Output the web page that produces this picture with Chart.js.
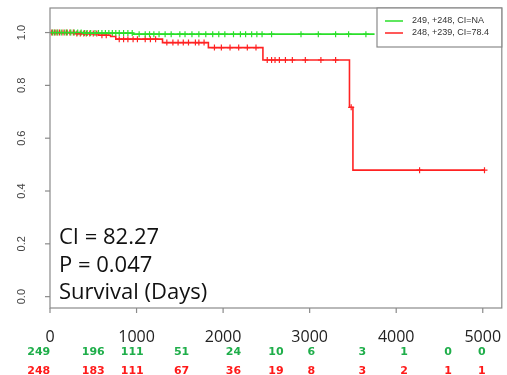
<!DOCTYPE html>
<html>
<head>
<meta charset="utf-8">
<script src="https://cdn.jsdelivr.net/npm/chart.js@4"></script>
<style>
  body { margin: 0; background: #fff; }
  canvas { display: block; }
</style>
</head>
<body>
<canvas id="km" width="507" height="375"></canvas>
<script>
// Kaplan-Meier steps (days, survival)
const greenTimes = [0, 380, 960, 3750];
const greenSurv = [1.0, 0.998, 0.994, 0.994];
const redTimes = [0, 300, 560, 700, 760, 1300, 1830, 2460, 3460, 3500, 5020];
const redSurv = [1.0, 0.996, 0.99, 0.985, 0.975, 0.962, 0.943, 0.896, 0.717, 0.479, 0.479];

// censoring marks (days)
const greenCensor = [30, 60, 90, 130, 170, 200, 240, 280, 320, 360, 400, 430, 470, 520, 560, 600, 640, 680, 720, 760, 800, 850, 900, 950,
  1030, 1100, 1150, 1200, 1260, 1330, 1400, 1500, 1560, 1640, 1720, 1800, 1880, 1950, 2020, 2120, 2200, 2260, 2330, 2390, 2450, 2560,
  2900, 3100, 3300, 3450, 3650];
const redCensor = [20, 50, 80, 110, 150, 190, 230, 270, 310, 350, 390, 420, 460, 500, 540, 600, 650, 800, 850, 900, 960, 1010, 1100,
  1160, 1220, 1350, 1420, 1480, 1540, 1600, 1680, 1720, 1780, 1900, 1980, 2080, 2180, 2280, 2380, 2510, 2560, 2600, 2650, 2720, 2800,
  2950, 3130, 3300, 3480, 4270, 5020];

// axes
const xTicks = [0, 1000, 2000, 3000, 4000, 5000];
const yTicks = [0, 0.2, 0.4, 0.6, 0.8, 1.0];

// numbers at risk
const riskTimes = [-130, 500, 950, 1520, 2120, 2610, 3020, 3610, 4090, 4600, 4990];
const greenRisk = [249, 196, 111, 51, 24, 10, 6, 3, 1, 0, 0];
const redRisk = [248, 183, 111, 67, 36, 19, 8, 3, 2, 1, 1];

const legendLabels = ['249, +248, CI=NA', '248, +239, CI=78.4'];
const statLines = ['CI = 82.27', 'P = 0.047', 'Survival (Days)'];

const GREEN = '#2adf2a';
const RED = '#ff2222';

function stepAt(times, surv, t) {
  let v = surv[0];
  times.forEach((tt, i) => { if (tt <= t) v = surv[i]; });
  return v;
}

const curve = (times, surv) => times.map((t, i) => ({x: t, y: surv[i]}));
const marks = (list, times, surv) => list.map(t => ({x: t, y: stepAt(times, surv, t)}));

const overlay = {
  id: 'overlay',
  afterDatasetsDraw(chart) {
    const {ctx, chartArea: a, scales: {x, y}} = chart;
    ctx.save();
    // box
    ctx.strokeStyle = '#8a8a8a';
    ctx.lineWidth = 1.2;
    ctx.strokeRect(a.left, a.top, a.right - a.left, a.bottom - a.top);

    // y ticks (rotated labels)
    ctx.fillStyle = '#444';
    ctx.font = '11px "Liberation Sans", Arial, sans-serif';
    ctx.textAlign = 'center';
    ctx.textBaseline = 'middle';
    yTicks.forEach(v => {
      const py = y.getPixelForValue(v);
      ctx.beginPath();
      ctx.moveTo(a.left, py); ctx.lineTo(a.left - 5, py); ctx.stroke();
      ctx.save();
      ctx.translate(22, py);
      ctx.rotate(-Math.PI / 2);
      ctx.fillText(v.toFixed(1), 0, 0);
      ctx.restore();
    });

    // x ticks
    ctx.fillStyle = '#222';
    ctx.font = '16px "Open Sans", sans-serif';
    xTicks.forEach(v => {
      const px = x.getPixelForValue(v);
      ctx.beginPath();
      ctx.moveTo(px, a.bottom); ctx.lineTo(px, a.bottom + 5); ctx.stroke();
      ctx.fillText(String(v), px, 337);
    });

    // numbers at risk
    ctx.font = 'bold 11px "DejaVu Sans", sans-serif';
    riskTimes.forEach((t, i) => {
      const px = x.getPixelForValue(t);
      ctx.fillStyle = '#1fae4a';
      ctx.fillText(String(greenRisk[i]), px, 352);
      ctx.fillStyle = '#ff1a1a';
      ctx.fillText(String(redRisk[i]), px, 371);
    });

    // stats text
    ctx.fillStyle = '#111';
    ctx.textAlign = 'left';
    ctx.font = '22px "Open Sans", sans-serif';
    statLines.forEach((s, i) => ctx.fillText(s, 59, 238 + i * 27.5));

    // legend
    const lx = 377, ly = 8, lw = a.right - lx, lh = 39;
    ctx.fillStyle = '#fff';
    ctx.fillRect(lx, ly, lw, lh);
    ctx.strokeStyle = '#8a8a8a';
    ctx.lineWidth = 1.2;
    ctx.strokeRect(lx, ly, lw, lh);
    ctx.font = '9px "Liberation Sans", Arial, sans-serif';
    [GREEN, RED].forEach((c, i) => {
      const yy = 21 + i * 12;
      ctx.strokeStyle = c;
      ctx.lineWidth = 1.5;
      ctx.beginPath();
      ctx.moveTo(385, yy); ctx.lineTo(403, yy); ctx.stroke();
      ctx.fillStyle = '#333';
      ctx.fillText(legendLabels[i], 412, yy);
    });
    ctx.restore();
  }
};

new Chart(document.getElementById('km'), {
  type: 'line',
  data: {
    datasets: [
      {data: curve(greenTimes, greenSurv), borderColor: GREEN, borderWidth: 1.6, stepped: 'before', pointRadius: 0, fill: false},
      {data: curve(redTimes, redSurv), borderColor: RED, borderWidth: 1.6, stepped: 'before', pointRadius: 0, fill: false},
      {type: 'scatter', data: marks(greenCensor, greenTimes, greenSurv), pointStyle: 'cross', pointRadius: 3,
        borderColor: GREEN, borderWidth: 1.2, showLine: false},
      {type: 'scatter', data: marks(redCensor, redTimes, redSurv), pointStyle: 'cross', pointRadius: 3,
        borderColor: RED, borderWidth: 1.2, showLine: false}
    ]
  },
  options: {
    responsive: false,
    animation: false,
    devicePixelRatio: 1,
    layout: {padding: {top: 8, right: 3, left: 0, bottom: 0}},
    plugins: {legend: {display: false}, tooltip: {enabled: false}},
    scales: {
      x: {
        type: 'linear', min: 0, max: 5220,
        ticks: {display: false}, grid: {display: false}, border: {display: false},
        afterFit(s) { s.height = 67; }
      },
      y: {
        type: 'linear', min: -0.043, max: 1.093,
        ticks: {display: false}, grid: {display: false}, border: {display: false},
        afterFit(s) { s.width = 50; }
      }
    }
  },
  plugins: [overlay]
});
</script>
</body>
</html>
